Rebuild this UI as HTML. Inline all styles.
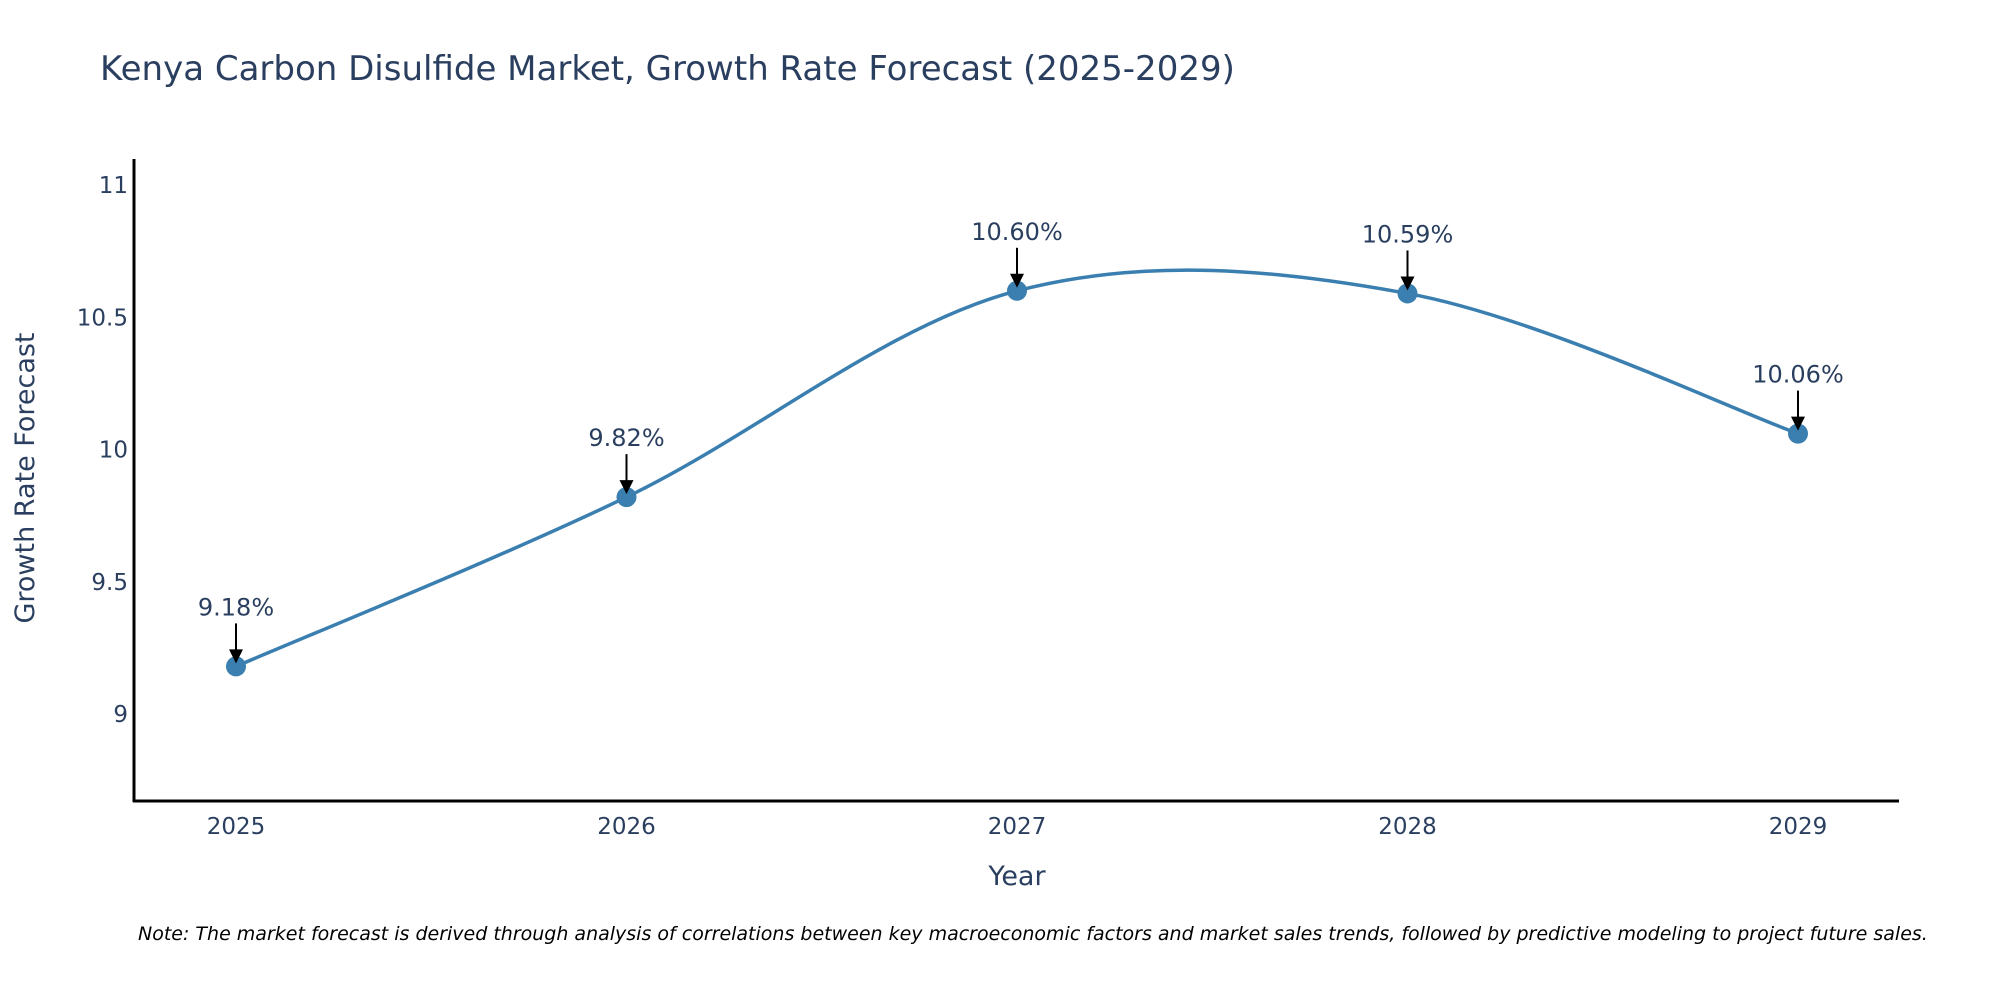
<!DOCTYPE html>
<html><head><meta charset="utf-8"><style>
html,body{margin:0;padding:0;background:#fff;}
svg{display:block;font-family:"DejaVu Sans","Liberation Sans",sans-serif;}
</style></head><body>
<svg id="chart" width="2000" height="1000" viewBox="0 0 2000 1000">
<text x="100" y="80" font-size="34" fill="#2a3f5f">Kenya Carbon Disulfide Market, Growth Rate Forecast (2025-2029)</text>
<g id="yticks"></g>
<g id="xticks"></g>
<line x1="134" y1="159" x2="134" y2="802" stroke="#000" stroke-width="3"/>
<line x1="133" y1="801" x2="1899" y2="801" stroke="#000" stroke-width="3"/>
<text transform="translate(34,478) rotate(-90)" text-anchor="middle" font-size="27" fill="#2a3f5f">Growth Rate Forecast</text>
<text x="1017" y="885" text-anchor="middle" font-size="27" fill="#2a3f5f">Year</text>
<g id="series"></g>
<g id="annots"></g>
<text x="138" y="940" font-size="19" font-style="italic" fill="#000">Note: The market forecast is derived through analysis of correlations between key macroeconomic factors and market sales trends, followed by predictive modeling to project future sales.</text>
</svg>
<script>
const years = [2025, 2026, 2027, 2028, 2029];
const values = [9.18, 9.82, 10.60, 10.59, 10.06];
const labels = ["9.18%", "9.82%", "10.60%", "10.59%", "10.06%"];
const yTicks = [9, 9.5, 10, 10.5, 11];
const yTickLabels = ["9", "9.5", "10", "10.5", "11"];

const NS = "http://www.w3.org/2000/svg";
const xS = v => 236 + (v - 2025) * 390.5;
const yS = v => 185 + (11 - v) * 264.5;
function mk(tag, attrs, parent, text){
  const e = document.createElementNS(NS, tag);
  for (const k in attrs) e.setAttribute(k, attrs[k]);
  if (text !== undefined) e.textContent = text;
  parent.appendChild(e); return e;
}
const yt = document.getElementById('yticks');
yTicks.forEach((t,i)=>{
  const el = mk('text',{x:128,y:yS(t)+8,'text-anchor':'end','font-size':23,fill:'#2a3f5f'},yt,yTickLabels[i]);
  
  
});
const xt = document.getElementById('xticks');
years.forEach(y=>{
  const el = mk('text',{x:xS(y),y:834,'text-anchor':'middle','font-size':23,fill:'#2a3f5f'},xt,String(y));
  
  
});
const pts = years.map((y,i)=>[xS(y), yS(values[i])]);
let d = `M${pts[0][0]},${pts[0][1]}`;
const s = 1/6;
for (let i=0;i<pts.length-1;i++){
  const p0 = pts[Math.max(i-1,0)], p1 = pts[i], p2 = pts[i+1], p3 = pts[Math.min(i+2,pts.length-1)];
  const c1 = [p1[0]+(p2[0]-p0[0])*s, p1[1]+(p2[1]-p0[1])*s];
  const c2 = [p2[0]-(p3[0]-p1[0])*s, p2[1]-(p3[1]-p1[1])*s];
  d += ` C${c1[0]},${c1[1]} ${c2[0]},${c2[1]} ${p2[0]},${p2[1]}`;
}
const g = document.getElementById('series');
const line = mk('path',{d:d,fill:'none',stroke:'#3a7fb0','stroke-width':3.5},g);


const an = document.getElementById('annots');
pts.forEach((p,i)=>{
  const c = mk('circle',{cx:p[0],cy:p[1],r:10,fill:'#3a7fb0'},g);
  
  
  const l = mk('line',{x1:p[0],y1:p[1]-43,x2:p[0],y2:p[1]-14,stroke:'#000','stroke-width':2},an);
  
  
  const h = mk('polygon',{points:`${p[0]-7},${p[1]-17} ${p[0]+7},${p[1]-17} ${p[0]},${p[1]-3}`,fill:'#000'},an);
  
  
  const t = mk('text',{x:p[0],y:p[1]-51,'text-anchor':'middle','font-size':24,fill:'#2a3f5f'},an,labels[i]);
  
  
});
</script>
</body></html>
